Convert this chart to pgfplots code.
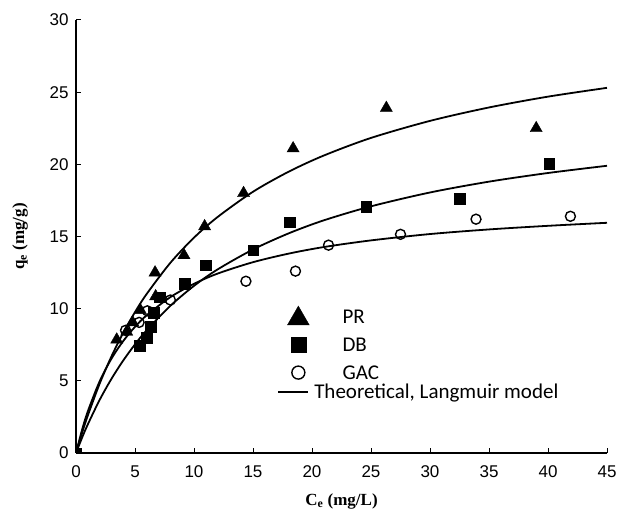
\documentclass[border=0pt]{standalone}
\usepackage{pgfplots}
\pgfplotsset{compat=1.18}
\usepackage{fontspec}
\setmainfont{Liberation Serif}
\newfontfamily\arialf{Liberation Sans}
\newfontfamily\calf{Carlito}

\pgfplotstableread{
x y
3.45 7.85
4.3 8.4
4.8 9.05
5.45 9.9
6.75 10.85
6.7 12.5
9.15 13.7
10.9 15.7
14.2 18.0
18.4 21.1
26.3 23.9
39.0 22.5
}\PR
\pgfplotstableread{
x y
0 0
5.4 7.45
6.0 8.0
6.35 8.75
6.6 9.7
7.1 10.8
9.2 11.75
11.0 13.0
15.0 14.05
18.1 16.0
24.6 17.05
32.5 17.6
40.1 20.05
}\DB
\pgfplotstableread{
x y
4.2 8.5
5.35 9.05
6.05 9.85
8.0 10.6
14.4 11.9
18.6 12.6
21.4 14.4
27.5 15.15
33.9 16.2
41.9 16.4
}\GAC
\pgfplotstableread{
x PR DB GAC
0 0 0 0
0.5 1.353 1.032 1.568
1 2.594 1.981 2.882
2 4.795 3.673 4.959
3 6.685 5.133 6.529
4 8.325 6.406 7.754
5 9.763 7.526 8.741
6 11.03 8.519 9.549
8 13.18 10.20 10.80
10 14.92 11.58 11.72
12 16.35 12.72 12.43
15 18.10 14.10 13.22
18 19.48 15.21 13.81
21 20.61 16.12 14.27
25 21.83 17.09 14.73
30 23.01 18.05 15.17
35 23.94 18.80 15.49
40 24.69 19.40 15.74
45 25.30 19.90 15.95
}\Fit

\begin{document}
\begin{tikzpicture}
\begin{axis}[name=ax,
  scale only axis, width=531pt, height=433pt,
  xmin=0, xmax=45, ymin=0, ymax=30,
  clip marker paths=true,
  axis x line*=bottom, axis y line*=left,
  axis line style={line width=1.4pt, -},
  tick align=inside, major tick length=5pt,
  tick style={line width=1pt, black},
  xtick={0,5,...,45}, ytick={0,5,...,30},
  xticklabel={\fontsize{17}{19}\arialf\pgfmathprintnumber[assume math mode=true]{\tick}},
  yticklabel={\fontsize{17}{19}\arialf\pgfmathprintnumber[assume math mode=true]{\tick}},
  yticklabel style={xshift=-4pt},
  xticklabel style={yshift=-9pt},
  xlabel={\textbf{C\textsubscript{e} (mg/L)}},
  ylabel={\textbf{q\textsubscript{e} (mg/g)}},
  label style={font=\fontsize{17}{19}\selectfont},
  xlabel style={at={(axis description cs:0.5,0)}, anchor=base, yshift=-52pt},
  ylabel style={at={(axis description cs:-0.1055,0.5)}, anchor=center},
  legend style={at={(axis cs:17.03,9.95)}, anchor=north west, draw=none, fill=none,
    inner sep=0pt, column sep=0pt, row sep=14pt,
    font=\fontsize{21}{25}\calf,
    nodes={inner sep=0pt, text height=14pt, text depth=0pt}},
  legend cell align=left,
]
\addplot[only marks, mark=triangle*, mark size=7pt, black,
  legend image code/.code={\path (0pt,0pt) (65pt,0pt);
    \draw[overlay, black, fill=black] plot[mark=triangle*, mark size=12.5pt] coordinates {(21pt,-2pt)};}]
  table[x=x,y=y] {\PR};
\addlegendentry{PR}
\addplot[only marks, mark=square*, mark size=5.3pt, black,
  legend image code/.code={\path (0pt,0pt) (65pt,0pt);
    \draw[overlay, black, fill=black] plot[mark=square*, mark size=7.5pt] coordinates {(21pt,0pt)};}]
  table[x=x,y=y] {\DB};
\addlegendentry{DB}
\addplot[only marks, mark=o, mark size=5pt, black, mark options={line width=1.4pt},
  legend image code/.code={\path (0pt,0pt) (65pt,0pt);
    \draw[overlay, black, line width=1.3pt] plot[mark=o, mark size=6.5pt] coordinates {(21pt,0pt)};}]
  table[x=x,y=y] {\GAC};
\addlegendentry{GAC}
\addplot[black, line width=1.8pt, smooth, forget plot] table[x=x,y=PR] {\Fit};
\addplot[black, line width=1.8pt, smooth, forget plot] table[x=x,y=DB] {\Fit};
\addplot[black, line width=1.8pt, smooth, forget plot] table[x=x,y=GAC] {\Fit};
\end{axis}
\begin{axis}[
  scale only axis, width=531pt, height=433pt,
  xmin=0, xmax=45, ymin=0, ymax=30, hide axis,
  legend style={at={(axis cs:17.03,4.75)}, anchor=north west, draw=none, fill=none,
    inner sep=0pt, column sep=0pt,
    font=\fontsize{21}{25}\calf,
    nodes={inner sep=0pt, text height=14pt, text depth=0pt}},
  legend cell align=left,
]
\addlegendimage{legend image code/.code={\draw[black, line width=1.8pt] (0pt,0pt) -- (30pt,0pt); \path (36pt,0pt);}}
\addlegendentry{Theoretical, Langmuir model}
\end{axis}
\pgfresetboundingbox
\path[use as bounding box] ([xshift=-76pt, yshift=-56pt]ax.south west) rectangle ([xshift=11pt, yshift=20pt]ax.north east);
\end{tikzpicture}
\end{document}
